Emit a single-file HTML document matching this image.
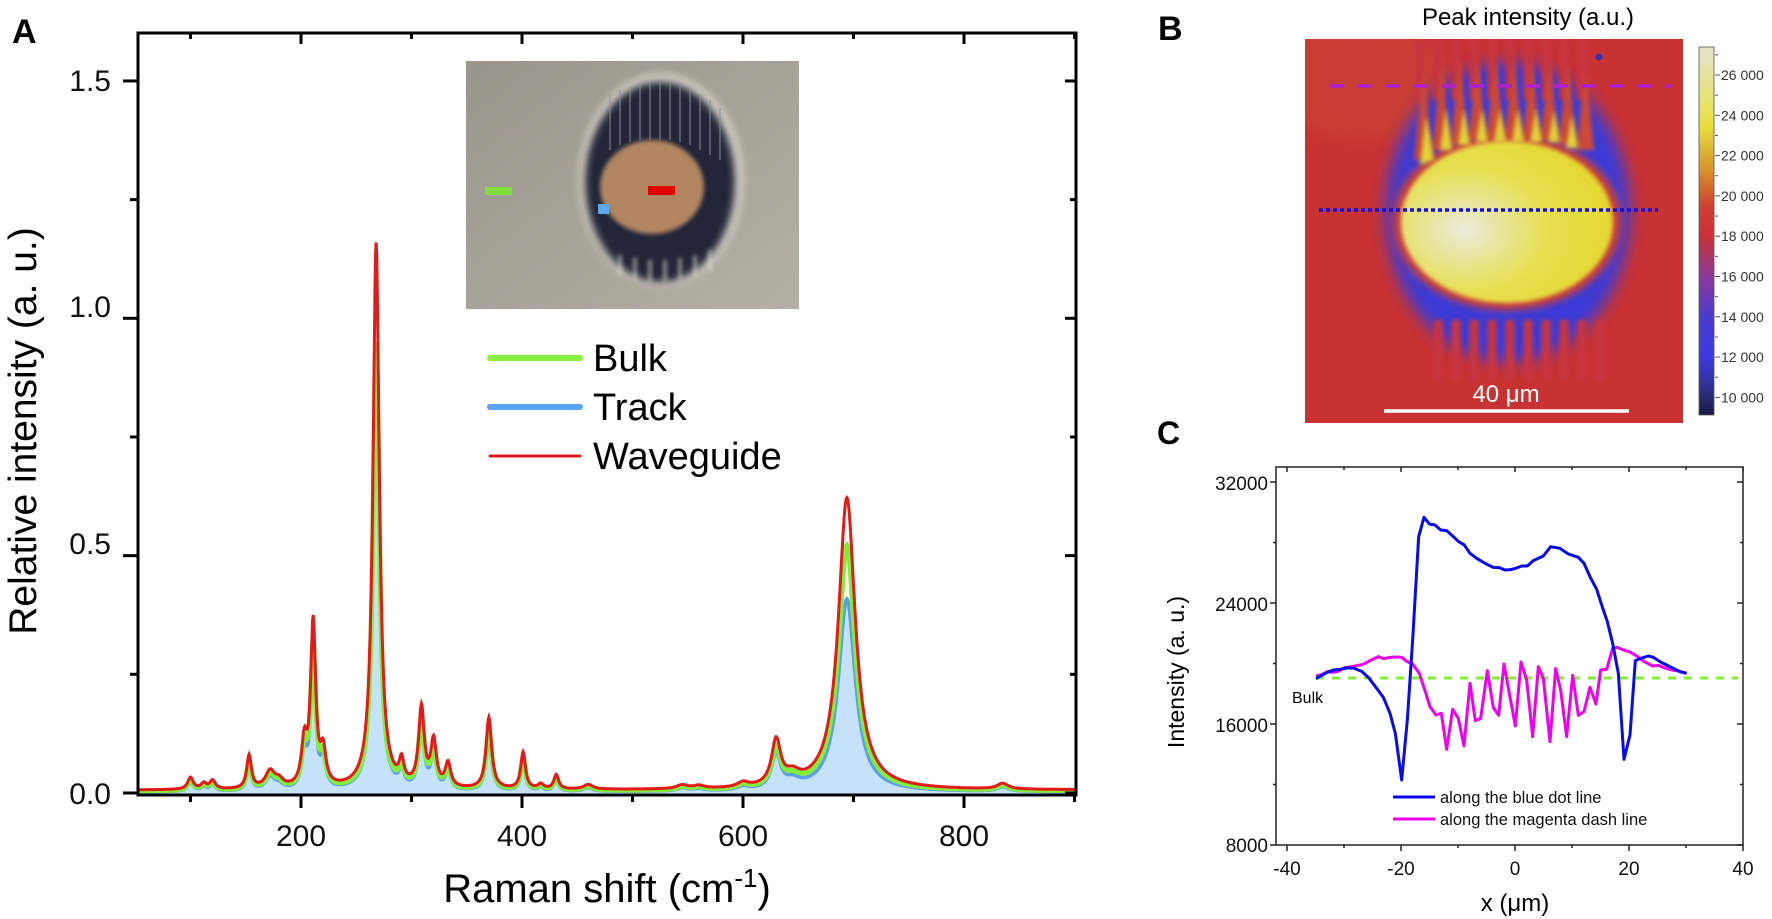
<!DOCTYPE html>
<html><head><meta charset="utf-8">
<style>
html,body{margin:0;padding:0;background:#fff;}
svg{display:block;font-family:"Liberation Sans",Arial,sans-serif;}
</style></head>
<body>
<svg id="s" width="1772" height="919" viewBox="0 0 1772 919" xmlns="http://www.w3.org/2000/svg">
<defs>
 <clipPath id="clipA"><rect x="138" y="33" width="938" height="762"/></clipPath>
 <clipPath id="clipB"><rect x="1305" y="39" width="378" height="384"/></clipPath>
 <clipPath id="clipI"><rect x="466" y="61" width="333" height="248"/></clipPath>
 <filter id="b8" x="-30%" y="-30%" width="160%" height="160%"><feGaussianBlur stdDeviation="8"/></filter>
 <filter id="b4" x="-30%" y="-30%" width="160%" height="160%"><feGaussianBlur stdDeviation="4"/></filter>
 <filter id="b2" x="-30%" y="-30%" width="160%" height="160%"><feGaussianBlur stdDeviation="2"/></filter>
 <linearGradient id="cb" x1="0" y1="0" x2="0" y2="1">
  <stop offset="0" stop-color="#e6e3d0"/>
  <stop offset="0.13" stop-color="#e6e27a"/>
  <stop offset="0.214" stop-color="#e8e03c"/>
  <stop offset="0.33" stop-color="#d8962c"/>
  <stop offset="0.433" stop-color="#d04030"/>
  <stop offset="0.515" stop-color="#cc3038"/>
  <stop offset="0.625" stop-color="#8a3a9a"/>
  <stop offset="0.734" stop-color="#4a3ad0"/>
  <stop offset="0.844" stop-color="#3a3ae0"/>
  <stop offset="0.926" stop-color="#303090"/>
  <stop offset="1" stop-color="#1a1a40"/>
 </linearGradient>
 <linearGradient id="photo" x1="0" y1="0" x2="1" y2="1">
  <stop offset="0" stop-color="#9a958c"/>
  <stop offset="1" stop-color="#b5b0a6"/>
 </linearGradient>
 <radialGradient id="yel" cx="0.3" cy="0.55" r="0.7">
  <stop offset="0" stop-color="#ebebdf"/>
  <stop offset="0.2" stop-color="#e8e6a8"/>
  <stop offset="0.55" stop-color="#e6e050"/>
  <stop offset="1" stop-color="#e4d830"/>
 </radialGradient>
</defs>

<!-- ===== Panel A ===== -->
<text x="12" y="43" font-size="34" font-weight="bold">A</text>
<g clip-path="url(#clipA)" id="spec"></g>
<rect x="138" y="33" width="938" height="762" fill="none" stroke="#000" stroke-width="3"/>
<g id="ticksA" stroke="#000" stroke-width="3"></g>
<g font-size="30" text-anchor="middle" fill="#111">
 <text x="301" y="846">200</text><text x="522" y="846">400</text>
 <text x="743" y="846">600</text><text x="964" y="846">800</text>
</g>
<g font-size="30" text-anchor="end" fill="#111">
 <text x="111" y="804">0.0</text><text x="111" y="554">0.5</text>
 <text x="111" y="317">1.0</text><text x="111" y="91">1.5</text>
</g>
<text transform="translate(36,431) rotate(-90)" font-size="39" text-anchor="middle">Relative intensity (a. u.)</text>
<text x="607" y="902" font-size="40" text-anchor="middle">Raman shift (cm<tspan dy="-15" font-size="26">-1</tspan><tspan dy="15">)</tspan></text>

<!-- inset photo -->
<g clip-path="url(#clipI)">
 <rect x="466" y="61" width="333" height="248" fill="url(#photo)"/>
 <ellipse cx="661" cy="180" rx="82" ry="106" fill="#d8d4c8" filter="url(#b4)"/>
 <ellipse cx="660" cy="182" rx="75" ry="100" fill="#202838" filter="url(#b4)"/>
 <g stroke="#8a8f98" stroke-width="2" opacity="0.5">
  <line x1="610" y1="95" x2="610" y2="150"/><line x1="620" y1="90" x2="620" y2="145"/>
  <line x1="630" y1="86" x2="630" y2="142"/><line x1="640" y1="84" x2="640" y2="140"/>
  <line x1="650" y1="83" x2="650" y2="140"/><line x1="660" y1="83" x2="660" y2="140"/>
  <line x1="670" y1="84" x2="670" y2="140"/><line x1="680" y1="86" x2="680" y2="142"/>
  <line x1="690" y1="89" x2="690" y2="145"/><line x1="700" y1="94" x2="700" y2="150"/>
  <line x1="710" y1="100" x2="710" y2="155"/><line x1="720" y1="108" x2="720" y2="160"/>
 </g>
 <g stroke="#e8e4d8" stroke-width="3" opacity="0.7" filter="url(#b2)">
  <line x1="620" y1="255" x2="620" y2="275"/><line x1="635" y1="258" x2="635" y2="280"/>
  <line x1="650" y1="260" x2="650" y2="282"/><line x1="665" y1="260" x2="665" y2="282"/>
  <line x1="680" y1="258" x2="680" y2="280"/><line x1="695" y1="255" x2="695" y2="276"/>
  <line x1="710" y1="250" x2="710" y2="270"/>
 </g>
 <ellipse cx="652" cy="187" rx="52" ry="47" fill="#b08560" filter="url(#b2)"/>
 <rect x="485" y="187" width="27" height="8" fill="#7fdc3a"/>
 <rect x="648" y="186" width="27" height="9" fill="#e00000"/>
 <rect x="598" y="204" width="11" height="10" fill="#5aa8f0"/>
</g>

<!-- legend A -->
<g stroke-linecap="round">
 <line x1="490" y1="358" x2="580" y2="358" stroke="#88f040" stroke-width="6"/>
 <line x1="490" y1="407" x2="580" y2="407" stroke="#5ba3ee" stroke-width="6"/>
 <line x1="490" y1="456" x2="580" y2="456" stroke="#e01818" stroke-width="3"/>
</g>
<g font-size="38" fill="#000">
 <text x="593" y="371">Bulk</text>
 <text x="593" y="420">Track</text>
 <text x="593" y="469">Waveguide</text>
</g>

<!-- ===== Panel B ===== -->
<text x="1158" y="40" font-size="34" font-weight="bold">B</text>
<text x="1528" y="25" font-size="24" text-anchor="middle">Peak intensity (a.u.)</text>
<g clip-path="url(#clipB)">
 <rect x="1305" y="39" width="378" height="384" fill="#c93232"/>
 <ellipse cx="1360" cy="80" rx="90" ry="60" fill="#cc5a30" opacity="0.3" filter="url(#b8)"/>
 <ellipse cx="1508" cy="212" rx="122" ry="150" fill="#3a3ad8" filter="url(#b8)"/>
 <g stroke="#c83440" stroke-width="9" filter="url(#b2)">
  <line x1="1420" y1="40" x2="1420" y2="100"/><line x1="1438" y1="40" x2="1438" y2="100"/>
  <line x1="1456" y1="40" x2="1456" y2="100"/><line x1="1474" y1="40" x2="1474" y2="100"/>
  <line x1="1492" y1="40" x2="1492" y2="100"/><line x1="1510" y1="40" x2="1510" y2="100"/>
  <line x1="1528" y1="40" x2="1528" y2="100"/><line x1="1546" y1="40" x2="1546" y2="100"/>
  <line x1="1564" y1="40" x2="1564" y2="100"/><line x1="1582" y1="40" x2="1582" y2="100"/>
  <line x1="1438" y1="320" x2="1438" y2="380"/><line x1="1456" y1="320" x2="1456" y2="380"/>
  <line x1="1474" y1="320" x2="1474" y2="380"/><line x1="1492" y1="320" x2="1492" y2="380"/>
  <line x1="1510" y1="320" x2="1510" y2="380"/><line x1="1528" y1="320" x2="1528" y2="380"/>
  <line x1="1546" y1="320" x2="1546" y2="380"/><line x1="1564" y1="320" x2="1564" y2="380"/>
  <line x1="1582" y1="320" x2="1582" y2="380"/><line x1="1600" y1="320" x2="1600" y2="380"/>
 </g>
 <ellipse cx="1507" cy="222" rx="114" ry="88" fill="#d04030" filter="url(#b4)"/>
 <g fill="#cc4a34" filter="url(#b2)">
  <polygon points="1414,160 1424,70 1432,160"/><polygon points="1432,150 1442,60 1450,150"/>
  <polygon points="1450,145 1460,58 1468,145"/><polygon points="1468,140 1478,58 1486,140"/>
  <polygon points="1486,140 1496,58 1504,140"/><polygon points="1504,140 1514,58 1522,140"/>
  <polygon points="1522,140 1532,58 1540,140"/><polygon points="1540,140 1550,60 1558,140"/>
  <polygon points="1558,145 1568,62 1576,145"/><polygon points="1576,150 1586,68 1594,150"/>
 </g>
 <ellipse cx="1507" cy="222" rx="106" ry="81" fill="url(#yel)" filter="url(#b2)"/>
 <g fill="#e2d236" filter="url(#b2)">
  <polygon points="1420,165 1426,115 1434,160"/><polygon points="1440,150 1446,108 1452,150"/>
  <polygon points="1458,145 1464,108 1470,145"/><polygon points="1476,142 1482,108 1488,142"/>
  <polygon points="1494,142 1500,108 1506,142"/><polygon points="1512,142 1518,108 1524,142"/>
  <polygon points="1530,142 1536,108 1542,142"/><polygon points="1548,142 1554,110 1560,142"/>
  <polygon points="1566,148 1572,114 1578,148"/>
 </g>
 <circle cx="1599" cy="57" r="3.5" fill="#3030b0"/>
 <line x1="1329" y1="86" x2="1672" y2="86" stroke="#b020d0" stroke-width="3.5" stroke-dasharray="15,13"/>
 <line x1="1319" y1="210" x2="1658" y2="210" stroke="#1010e0" stroke-width="3.5" stroke-dasharray="4,3"/>
 <line x1="1384" y1="411" x2="1629" y2="411" stroke="#fff" stroke-width="3.5"/>
 <text x="1506" y="402" font-size="24" fill="#fff" text-anchor="middle">40 μm</text>
</g>
<rect x="1699" y="47" width="15" height="368" fill="url(#cb)" stroke="#555" stroke-width="0.8"/>
<g id="cbt" stroke="#555" stroke-width="1"></g>
<g font-size="14" fill="#333" id="cbl"></g>

<!-- ===== Panel C ===== -->
<text x="1157" y="444" font-size="32" font-weight="bold">C</text>
<rect x="1276" y="467" width="467" height="378" fill="none" stroke="#222" stroke-width="1.5"/>
<g id="ticksC" stroke="#222" stroke-width="1.5"></g>
<g font-size="19" text-anchor="end" fill="#111">
 <text x="1268" y="490">32000</text><text x="1268" y="611">24000</text>
 <text x="1268" y="732">16000</text><text x="1268" y="852">8000</text>
</g>
<g font-size="19" text-anchor="middle" fill="#111">
 <text x="1287" y="875">-40</text><text x="1401" y="875">-20</text>
 <text x="1515" y="875">0</text><text x="1629" y="875">20</text><text x="1743" y="875">40</text>
</g>
<text transform="translate(1184,672) rotate(-90)" font-size="23" text-anchor="middle">Intensity (a. u.)</text>
<text x="1515" y="911" font-size="24" text-anchor="middle">x (μm)</text>
<line x1="1316" y1="678" x2="1738" y2="678" stroke="#80ee30" stroke-width="3" stroke-dasharray="8,8"/>
<text x="1292" y="703" font-size="16">Bulk</text>
<g transform="translate(1240,440) scale(0.33333)" fill="none" stroke-width="3" stroke-linejoin="round">
 <polyline vector-effect="non-scaling-stroke" stroke="#ee00ee" points="228,708 245,704 262,695 280,697 295,694 315,683 335,680 355,676 370,673 390,662 415,650 432,656 450,652 470,651 485,652 500,664 518,672 538,700 555,752 570,800 588,825 604,820 620,928 638,808 655,835 672,918 690,730 706,842 722,835 742,692 760,803 776,826 792,672 808,760 826,858 843,666 860,720 878,890 895,680 910,715 930,905 947,686 962,750 980,890 998,706 1015,826 1032,815 1050,742 1068,792 1082,690 1100,688 1118,625 1132,622 1150,630 1170,636 1190,648 1210,663 1238,678 1255,676 1275,684 1295,690 1315,693 1340,700"/>
 <polyline vector-effect="non-scaling-stroke" stroke="#0a0aee" points="228,716 245,706 262,697 280,690 300,688 320,684 340,684 365,694 385,712 410,745 430,772 450,820 466,880 485,1020 502,840 518,600 536,290 552,232 568,252 585,255 602,270 620,272 640,290 656,305 672,314 690,340 710,355 730,367 745,375 760,382 778,383 795,390 812,389 830,384 845,378 862,378 880,362 910,348 932,320 960,325 985,342 1015,352 1032,370 1050,410 1070,448 1085,495 1102,545 1118,610 1135,700 1152,958 1170,885 1186,662 1202,655 1225,648 1240,652 1260,665 1280,675 1300,685 1320,695 1340,700"/>
</g>
<line x1="1393" y1="797" x2="1435" y2="797" stroke="#0a0aee" stroke-width="3"/>
<line x1="1393" y1="819" x2="1435" y2="819" stroke="#ee00ee" stroke-width="3"/>
<g font-size="16.5" fill="#111">
 <text x="1440" y="803">along the blue dot line</text>
 <text x="1440" y="825">along the magenta dash line</text>
</g>
</svg>
<script>
(function(){
var NS="http://www.w3.org/2000/svg";
function el(t,a,p){var e=document.createElementNS(NS,t);for(var k in a)e.setAttribute(k,a[k]);p.appendChild(e);return e;}
function X(v){return 301+(v-200)*1.105;}
function Y(I){return 793-I*474.7;}
var P=[[100,0.025,3],[112,0.012,3],[120,0.018,3],[153,0.07,2.5],[172,0.035,5],[180,0.015,5],[203,0.09,3],[211,0.345,2.7],[220,0.07,3],[268,1.15,3.4],[291,0.045,2.5],[309,0.165,3],[320,0.095,3],[333,0.05,3],[370,0.15,3],[401,0.077,2.5],[417,0.01,3],[431,0.03,2.5],[460,0.01,5],[545,0.008,6],[560,0.006,6],[600,0.01,6],[630,0.095,5],[645,0.02,8],[694,0.615,9.2],[835,0.012,6]];
function f(v,mode){var s=0.006;for(var i=0;i<P.length;i++){var p=P[i],d=(v-p[0])/p[2],a=p[1];
 if(mode==1)a*=(p[0]==268?0.82:(p[0]==694?0.84:0.86));
 if(mode==2)a*=(p[0]==268?0.74:(p[0]==694?0.66:0.76));
 s+=a/(1+d*d);} if(mode==1)s-=0.002; if(mode==2)s-=0.004; return s;}
function path(mode){var d="";for(var v=50;v<=902;v+=0.5){d+=(v==50?"M":"L")+X(v).toFixed(1)+","+Y(f(v,mode)).toFixed(1);}return d;}
var g=document.getElementById("spec");
var pt=path(2);
el("path",{d:pt+"L"+X(902)+",795L"+X(50)+",795Z",fill:"#c6e2f8",stroke:"none"},g);
el("path",{d:pt,fill:"none",stroke:"#5b9fe6","stroke-width":3.5},g);
el("path",{d:path(1),fill:"none",stroke:"#80ee3a","stroke-width":5},g);
el("path",{d:path(0),fill:"none",stroke:"#e41a1a","stroke-width":3},g);
var t=document.getElementById("ticksA");
for(var v=100;v<=900;v+=100){var x=X(v),maj=(v%200==0);
 el("line",{x1:x,y1:795,x2:x,y2:795+(maj?13:7)},t);
 el("line",{x1:x,y1:33,x2:x,y2:33+(maj?11:6)},t);}
for(var i=0;i<=6;i++){var I=i*0.25,y=Y(I),maj=(i%2==0);
 el("line",{x1:138,y1:y,x2:138-(maj?15:8),y2:y},t);
 el("line",{x1:1076,y1:y,x2:1076-(maj?11:6),y2:y},t);}
var cbt=document.getElementById("cbt"),cbl=document.getElementById("cbl");
for(var k=0;k<=8;k++){var y=75+k*40.3;
 el("line",{x1:1715,y1:y,x2:1720,y2:y},cbt);
 el("line",{x1:1715,y1:y-20.15,x2:1718,y2:y-20.15},cbt);
 var tx=el("text",{x:1721,y:y+5},cbl);tx.textContent=(26-2*k)+" 000";}
var tc=document.getElementById("ticksC");
function CX(v){return 1515+v*5.7;}function CY(I){return 845-(I-8000)*121/8000;}
for(var v=-40;v<=40;v+=10){var x=CX(v),maj=(v%20==0);
 el("line",{x1:x,y1:845,x2:x,y2:845+(maj?6:3)},tc);
 el("line",{x1:x,y1:467,x2:x,y2:467+(maj?5:3)},tc);}
for(var I=8000;I<=32000;I+=4000){var y=CY(I),maj=(I%8000==0);
 el("line",{x1:1276,y1:y,x2:1276-(maj?6:3),y2:y},tc);
 el("line",{x1:1743,y1:y,x2:1743-(maj?6:3),y2:y},tc);}
})();
</script>
</body></html>
